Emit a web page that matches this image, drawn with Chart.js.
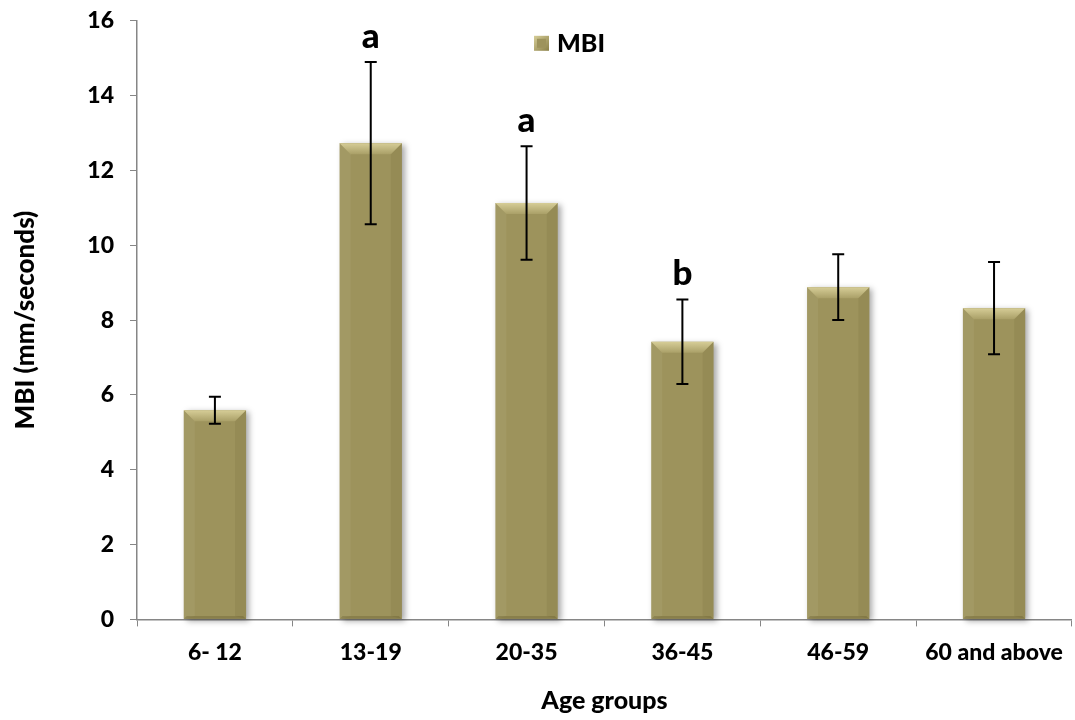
<!DOCTYPE html>
<html>
<head>
<meta charset="utf-8">
<script src="https://cdn.jsdelivr.net/npm/chart.js@4.4.1/dist/chart.umd.min.js"></script>
<style>
    html, body { margin: 0; padding: 0; background: #ffffff; overflow: hidden; }
    #caja { width: 1075px; height: 729px; margin-top: -9px; }
</style>
</head>
<body>
<div id="caja"><canvas id="grafico"></canvas></div>
<script>
const grupos = ["6- 12", "13-19", "20-35", "36-45", "46-59", "60 and above"];
const valoresMBI = [5.59, 12.73, 11.13, 7.42, 8.88, 8.32];
const erroresMBI = [0.36, 2.17, 1.52, 1.13, 0.88, 1.23];
const letras = ["", "a", "a", "b", "", ""];

const fuente = "Lato, 'Open Sans', sans-serif";
const peso = "900";
const colorBarra = "#9d935c";

// sombra y biselado de las barras
const biselBarras = {
    id: "biselBarras",
    beforeDatasetsDraw(chart) {
        const ctx = chart.ctx;
        const meta = chart.getDatasetMeta(0);
        ctx.save();
        meta.data.forEach(barra => {
            const w = barra.width;
            ctx.shadowColor = "rgba(0,0,0,0.35)";
            ctx.shadowBlur = 6;
            ctx.shadowOffsetX = 3;
            ctx.shadowOffsetY = 2;
            ctx.fillStyle = colorBarra;
            ctx.fillRect(barra.x - w / 2, barra.y, w, barra.base - barra.y);
        });
        ctx.restore();
    },
    afterDatasetsDraw(chart) {
        const ctx = chart.ctx;
        const meta = chart.getDatasetMeta(0);
        const b = 11;
        ctx.save();
        meta.data.forEach(barra => {
            const w = barra.width;
            const izq = barra.x - w / 2;
            const der = barra.x + w / 2;
            const arriba = barra.y;
            const abajo = barra.base;

            const grad = ctx.createLinearGradient(0, arriba, 0, arriba + b);
            grad.addColorStop(0, "#d6cd97");
            grad.addColorStop(1, "#aaa068");
            ctx.fillStyle = grad;
            ctx.beginPath();
            ctx.moveTo(izq, arriba);
            ctx.lineTo(der, arriba);
            ctx.lineTo(der - b, arriba + b);
            ctx.lineTo(izq + b, arriba + b);
            ctx.closePath();
            ctx.fill();

            ctx.fillStyle = "rgba(255,255,235,0.06)";
            ctx.beginPath();
            ctx.moveTo(izq, arriba);
            ctx.lineTo(izq + b, arriba + b);
            ctx.lineTo(izq + b, abajo - 3);
            ctx.lineTo(izq, abajo);
            ctx.closePath();
            ctx.fill();

            ctx.fillStyle = "rgba(60,50,10,0.08)";
            ctx.beginPath();
            ctx.moveTo(der, arriba);
            ctx.lineTo(der - b, arriba + b);
            ctx.lineTo(der - b, abajo - 3);
            ctx.lineTo(der, abajo);
            ctx.closePath();
            ctx.fill();

            ctx.fillStyle = "rgba(60,50,10,0.2)";
            ctx.beginPath();
            ctx.moveTo(izq, abajo);
            ctx.lineTo(izq + 3, abajo - 3);
            ctx.lineTo(der - 3, abajo - 3);
            ctx.lineTo(der, abajo);
            ctx.closePath();
            ctx.fill();
        });
        ctx.restore();
    }
};

// barras de error, letras y leyenda
const extras = {
    id: "extras",
    afterDraw(chart) {
        const ctx = chart.ctx;
        const ejeY = chart.scales.y;
        const meta = chart.getDatasetMeta(0);
        ctx.save();
        ctx.strokeStyle = "#000000";
        ctx.lineWidth = 2;
        meta.data.forEach((barra, i) => {
            const yAlto = ejeY.getPixelForValue(valoresMBI[i] + erroresMBI[i]);
            const yBajo = ejeY.getPixelForValue(valoresMBI[i] - erroresMBI[i]);
            ctx.beginPath();
            ctx.moveTo(barra.x, yAlto);
            ctx.lineTo(barra.x, yBajo);
            ctx.moveTo(barra.x - 6, yAlto);
            ctx.lineTo(barra.x + 6, yAlto);
            ctx.moveTo(barra.x - 6, yBajo);
            ctx.lineTo(barra.x + 6, yBajo);
            ctx.stroke();

            if (letras[i]) {
                ctx.fillStyle = "#000000";
                ctx.font = peso + " 35px " + fuente;
                ctx.textAlign = "center";
                ctx.textBaseline = "bottom";
                ctx.fillText(letras[i], barra.x, yAlto - 8);
            }
        });

        // leyenda
        const ejeX = chart.scales.x;
        const lx = ejeX.left + 397, ly = ejeY.top + 15;
        const g = ctx.createLinearGradient(lx, ly, lx + 15, ly + 15);
        g.addColorStop(0, "#d6cd97");
        g.addColorStop(1, "#8a8048");
        ctx.fillStyle = g;
        ctx.fillRect(lx, ly, 15, 15);
        ctx.fillStyle = colorBarra;
        ctx.fillRect(lx + 3, ly + 3, 9, 9);
        ctx.fillStyle = "#000000";
        ctx.font = peso + " 25px " + fuente;
        ctx.textAlign = "left";
        ctx.textBaseline = "middle";
        ctx.fillText("MBI", lx + 23, ly + 8);
        ctx.restore();
    }
};

new Chart(document.getElementById("grafico"), {
    type: "bar",
    data: {
        labels: grupos,
        datasets: [{
            label: "MBI",
            data: valoresMBI,
            backgroundColor: "rgba(0,0,0,0)",
            borderWidth: 0,
            barPercentage: 0.8,
            categoryPercentage: 0.5
        }]
    },
    options: {
        responsive: true,
        maintainAspectRatio: false,
        animation: false,
        layout: { padding: { top: 2, right: 2, left: 0, bottom: 4 } },
        plugins: {
            legend: { display: false },
            tooltip: { enabled: false }
        },
        scales: {
            x: {
                grid: {
                    drawOnChartArea: false,
                    drawTicks: true,
                    tickLength: 7,
                    color: "#868686"
                },
                border: { color: "#868686", width: 1.5 },
                ticks: {
                    color: "#000000",
                    padding: 12,
                    maxRotation: 0,
                    font: { family: fuente, size: 23, weight: peso }
                },
                title: {
                    display: true,
                    text: "Age groups",
                    color: "#000000",
                    padding: { top: 8, bottom: 0 },
                    font: { family: fuente, size: 25, weight: peso }
                }
            },
            y: {
                min: 0,
                max: 16,
                ticks: {
                    stepSize: 2,
                    color: "#000000",
                    padding: 16,
                    font: { family: fuente, size: 23, weight: peso }
                },
                grid: {
                    drawOnChartArea: false,
                    drawTicks: true,
                    tickLength: 7,
                    color: "#868686"
                },
                border: { color: "#868686", width: 1.5 },
                title: {
                    display: true,
                    text: "MBI (mm/seconds)",
                    color: "#000000",
                    padding: { top: 10, bottom: 24 },
                    font: { family: fuente, size: 26, weight: peso }
                },
                afterFit(eje) { eje.width = 137; }
            }
        }
    },
    plugins: [biselBarras, extras]
});
</script>
</body>
</html>
